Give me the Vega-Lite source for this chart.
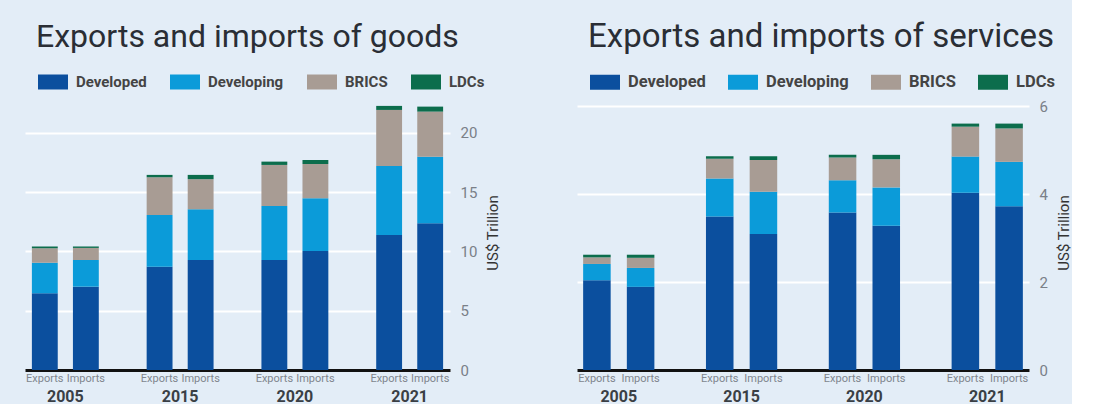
{
  "$schema": "https://vega.github.io/schema/vega-lite/v6.json",
  "background": "#e3edf7",
  "padding": {"left": 25, "top": 21, "right": 0, "bottom": 0},
  "spacing": 76,
  "config": {
    "view": {"stroke": null},
    "font": "Roboto",
    "title": {"font": "Roboto", "fontSize": 32, "fontWeight": "normal", "color": "#2a2e35", "anchor": "start", "dx": 11, "offset": 13},
    "axisX": {"labelAngle": 0, "ticks": false, "domainColor": "#111111", "domainWidth": 3, "labelPadding": 18, "labelFontSize": 16, "labelFontWeight": "bold", "labelColor": "#3a3f45", "title": null, "grid": false},
    "axisY": {"orient": "right", "domain": false, "ticks": false, "gridColor": "#ffffff", "gridWidth": 2, "labelColor": "#7a8088", "labelPadding": 10, "titleColor": "#333333", "titleFontWeight": "normal", "titleFontSize": 15, "titleAngle": 270, "titlePadding": 24},
    "legend": {"orient": "none", "legendX": 13, "legendY": -28, "direction": "horizontal", "title": null, "symbolType": "M-1,-0.5H1V0.5H-1Z", "symbolSize": 900, "symbolStrokeWidth": 0, "symbolOpacity": 1, "labelColor": "#444444", "labelFontWeight": "bold", "labelOffset": 8, "padding": 0}
  },
  "datasets": {
    "d": [
      {"type": "goods", "year": "2005", "flow": "Exports", "cat": "Developed", "k": 1, "v": 6.47},
      {"type": "goods", "year": "2005", "flow": "Exports", "cat": "Developing", "k": 2, "v": 2.58},
      {"type": "goods", "year": "2005", "flow": "Exports", "cat": "BRICS", "k": 3, "v": 1.22},
      {"type": "goods", "year": "2005", "flow": "Exports", "cat": "LDCs", "k": 4, "v": 0.14},
      {"type": "goods", "year": "2005", "flow": "Imports", "cat": "Developed", "k": 1, "v": 7.03},
      {"type": "goods", "year": "2005", "flow": "Imports", "cat": "Developing", "k": 2, "v": 2.25},
      {"type": "goods", "year": "2005", "flow": "Imports", "cat": "BRICS", "k": 3, "v": 1.02},
      {"type": "goods", "year": "2005", "flow": "Imports", "cat": "LDCs", "k": 4, "v": 0.12},
      {"type": "goods", "year": "2015", "flow": "Exports", "cat": "Developed", "k": 1, "v": 8.72},
      {"type": "goods", "year": "2015", "flow": "Exports", "cat": "Developing", "k": 2, "v": 4.36},
      {"type": "goods", "year": "2015", "flow": "Exports", "cat": "BRICS", "k": 3, "v": 3.18},
      {"type": "goods", "year": "2015", "flow": "Exports", "cat": "LDCs", "k": 4, "v": 0.2},
      {"type": "goods", "year": "2015", "flow": "Imports", "cat": "Developed", "k": 1, "v": 9.28},
      {"type": "goods", "year": "2015", "flow": "Imports", "cat": "Developing", "k": 2, "v": 4.28},
      {"type": "goods", "year": "2015", "flow": "Imports", "cat": "BRICS", "k": 3, "v": 2.54},
      {"type": "goods", "year": "2015", "flow": "Imports", "cat": "LDCs", "k": 4, "v": 0.36},
      {"type": "goods", "year": "2020", "flow": "Exports", "cat": "Developed", "k": 1, "v": 9.28},
      {"type": "goods", "year": "2020", "flow": "Exports", "cat": "Developing", "k": 2, "v": 4.56},
      {"type": "goods", "year": "2020", "flow": "Exports", "cat": "BRICS", "k": 3, "v": 3.46},
      {"type": "goods", "year": "2020", "flow": "Exports", "cat": "LDCs", "k": 4, "v": 0.28},
      {"type": "goods", "year": "2020", "flow": "Imports", "cat": "Developed", "k": 1, "v": 10.04},
      {"type": "goods", "year": "2020", "flow": "Imports", "cat": "Developing", "k": 2, "v": 4.45},
      {"type": "goods", "year": "2020", "flow": "Imports", "cat": "BRICS", "k": 3, "v": 2.89},
      {"type": "goods", "year": "2020", "flow": "Imports", "cat": "LDCs", "k": 4, "v": 0.34},
      {"type": "goods", "year": "2021", "flow": "Exports", "cat": "Developed", "k": 1, "v": 11.39},
      {"type": "goods", "year": "2021", "flow": "Exports", "cat": "Developing", "k": 2, "v": 5.83},
      {"type": "goods", "year": "2021", "flow": "Exports", "cat": "BRICS", "k": 3, "v": 4.72},
      {"type": "goods", "year": "2021", "flow": "Exports", "cat": "LDCs", "k": 4, "v": 0.34},
      {"type": "goods", "year": "2021", "flow": "Imports", "cat": "Developed", "k": 1, "v": 12.38},
      {"type": "goods", "year": "2021", "flow": "Imports", "cat": "Developing", "k": 2, "v": 5.62},
      {"type": "goods", "year": "2021", "flow": "Imports", "cat": "BRICS", "k": 3, "v": 3.8},
      {"type": "goods", "year": "2021", "flow": "Imports", "cat": "LDCs", "k": 4, "v": 0.42},
      {"type": "services", "year": "2005", "flow": "Exports", "cat": "Developed", "k": 1, "v": 2.04},
      {"type": "services", "year": "2005", "flow": "Exports", "cat": "Developing", "k": 2, "v": 0.37},
      {"type": "services", "year": "2005", "flow": "Exports", "cat": "BRICS", "k": 3, "v": 0.15},
      {"type": "services", "year": "2005", "flow": "Exports", "cat": "LDCs", "k": 4, "v": 0.06},
      {"type": "services", "year": "2005", "flow": "Imports", "cat": "Developed", "k": 1, "v": 1.89},
      {"type": "services", "year": "2005", "flow": "Imports", "cat": "Developing", "k": 2, "v": 0.43},
      {"type": "services", "year": "2005", "flow": "Imports", "cat": "BRICS", "k": 3, "v": 0.23},
      {"type": "services", "year": "2005", "flow": "Imports", "cat": "LDCs", "k": 4, "v": 0.07},
      {"type": "services", "year": "2015", "flow": "Exports", "cat": "Developed", "k": 1, "v": 3.49},
      {"type": "services", "year": "2015", "flow": "Exports", "cat": "Developing", "k": 2, "v": 0.86},
      {"type": "services", "year": "2015", "flow": "Exports", "cat": "BRICS", "k": 3, "v": 0.45},
      {"type": "services", "year": "2015", "flow": "Exports", "cat": "LDCs", "k": 4, "v": 0.06},
      {"type": "services", "year": "2015", "flow": "Imports", "cat": "Developed", "k": 1, "v": 3.09},
      {"type": "services", "year": "2015", "flow": "Imports", "cat": "Developing", "k": 2, "v": 0.96},
      {"type": "services", "year": "2015", "flow": "Imports", "cat": "BRICS", "k": 3, "v": 0.72},
      {"type": "services", "year": "2015", "flow": "Imports", "cat": "LDCs", "k": 4, "v": 0.09},
      {"type": "services", "year": "2020", "flow": "Exports", "cat": "Developed", "k": 1, "v": 3.58},
      {"type": "services", "year": "2020", "flow": "Exports", "cat": "Developing", "k": 2, "v": 0.73},
      {"type": "services", "year": "2020", "flow": "Exports", "cat": "BRICS", "k": 3, "v": 0.52},
      {"type": "services", "year": "2020", "flow": "Exports", "cat": "LDCs", "k": 4, "v": 0.06},
      {"type": "services", "year": "2020", "flow": "Imports", "cat": "Developed", "k": 1, "v": 3.28},
      {"type": "services", "year": "2020", "flow": "Imports", "cat": "Developing", "k": 2, "v": 0.87},
      {"type": "services", "year": "2020", "flow": "Imports", "cat": "BRICS", "k": 3, "v": 0.64},
      {"type": "services", "year": "2020", "flow": "Imports", "cat": "LDCs", "k": 4, "v": 0.1},
      {"type": "services", "year": "2021", "flow": "Exports", "cat": "Developed", "k": 1, "v": 4.03},
      {"type": "services", "year": "2021", "flow": "Exports", "cat": "Developing", "k": 2, "v": 0.82},
      {"type": "services", "year": "2021", "flow": "Exports", "cat": "BRICS", "k": 3, "v": 0.68},
      {"type": "services", "year": "2021", "flow": "Exports", "cat": "LDCs", "k": 4, "v": 0.07},
      {"type": "services", "year": "2021", "flow": "Imports", "cat": "Developed", "k": 1, "v": 3.72},
      {"type": "services", "year": "2021", "flow": "Imports", "cat": "Developing", "k": 2, "v": 1.01},
      {"type": "services", "year": "2021", "flow": "Imports", "cat": "BRICS", "k": 3, "v": 0.76},
      {"type": "services", "year": "2021", "flow": "Imports", "cat": "LDCs", "k": 4, "v": 0.11}
    ]
  },
  "resolve": {"legend": {"color": "independent"}, "scale": {"y": "independent", "x": "independent", "xOffset": "independent"}},
  "hconcat": [
    {
      "width": 425,
      "height": 275,
      "title": {"text": "Exports and imports of goods"},
      "data": {"name": "d"},
      "transform": [{"filter": "datum.type == 'goods'"}],
      "encoding": {
        "x": {"field": "year", "type": "nominal", "scale": {"paddingInner": 0.417, "paddingOuter": 0.06}},
        "xOffset": {"field": "flow", "type": "nominal", "scale": {"paddingInner": 0.37, "paddingOuter": 0}}
      },
      "layer": [
        {
          "mark": {"type": "bar"},
          "encoding": {
            "y": {"field": "v", "type": "quantitative", "stack": "zero", "scale": {"domain": [0, 23.2], "nice": false}, "axis": {"values": [0, 5, 10, 15, 20], "title": "US$ Trillion", "labelFontSize": 15}},
            "color": {"field": "cat", "type": "nominal", "sort": ["Developed", "Developing", "BRICS", "LDCs"], "scale": {"domain": ["Developed", "Developing", "BRICS", "LDCs"], "range": ["#0b4f9e", "#0b9bd9", "#a89c94", "#0c6d4c"]}, "legend": {"labelFontSize": 15, "columnPadding": 23}},
            "order": {"field": "k", "type": "quantitative", "sort": "ascending"}
          }
        },
        {
          "transform": [{"filter": "datum.cat == 'Developed'"}],
          "mark": {"type": "text", "baseline": "top", "dy": 3, "fontSize": 11, "color": "#80868e"},
          "encoding": {
            "y": {"datum": 0, "type": "quantitative"},
            "text": {"field": "flow"}
          }
        }
      ]
    },
    {
      "width": 452,
      "height": 275,
      "title": {"text": "Exports and imports of services", "fontSize": 33},
      "data": {"name": "d"},
      "transform": [{"filter": "datum.type == 'services'"}],
      "encoding": {
        "x": {"field": "year", "type": "nominal", "scale": {"paddingInner": 0.42, "paddingOuter": 0.05}},
        "xOffset": {"field": "flow", "type": "nominal", "scale": {"paddingInner": 0.37, "paddingOuter": 0}}
      },
      "layer": [
        {
          "mark": {"type": "bar"},
          "encoding": {
            "y": {"field": "v", "type": "quantitative", "stack": "zero", "scale": {"domain": [0, 6.25], "nice": false}, "axis": {"values": [0, 2, 4, 6], "title": "US$ Trillion", "labelFontSize": 15}},
            "color": {"field": "cat", "type": "nominal", "sort": ["Developed", "Developing", "BRICS", "LDCs"], "scale": {"domain": ["Developed", "Developing", "BRICS", "LDCs"], "range": ["#0b4f9e", "#0b9bd9", "#a89c94", "#0c6d4c"]}, "legend": {"labelFontSize": 16.5, "columnPadding": 22}},
            "order": {"field": "k", "type": "quantitative", "sort": "ascending"}
          }
        },
        {
          "transform": [{"filter": "datum.cat == 'Developed'"}],
          "mark": {"type": "text", "baseline": "top", "dy": 3, "fontSize": 11, "color": "#80868e"},
          "encoding": {
            "y": {"datum": 0, "type": "quantitative"},
            "text": {"field": "flow"}
          }
        }
      ]
    }
  ]
}
